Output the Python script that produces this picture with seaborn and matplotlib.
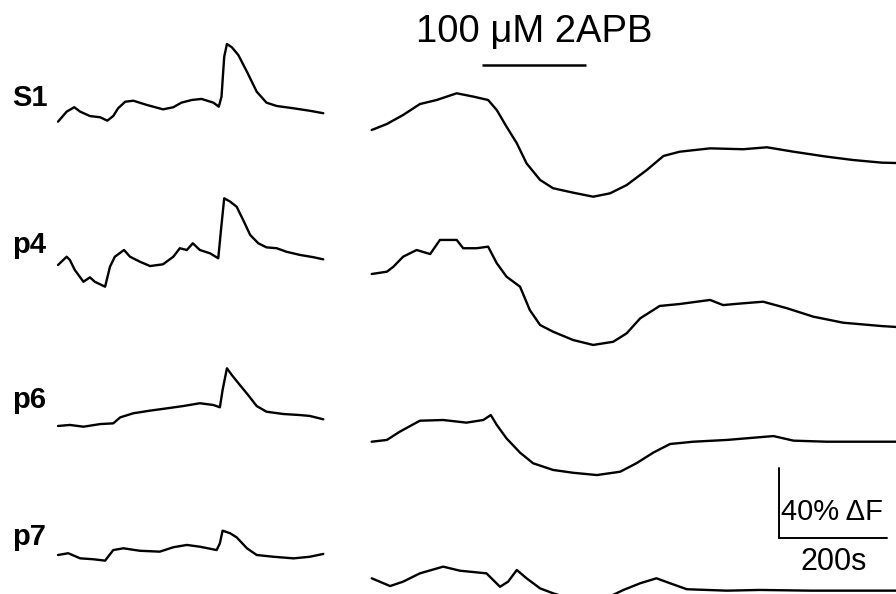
import numpy as np
import pandas as pd
import matplotlib
matplotlib.use("Agg")
import matplotlib.pyplot as plt
import seaborn as sns

# ---------------- data (time in s, fluorescence change in % dF) ----------------
row_labels = ["S1", "p4", "p6", "p7"]

# left column: spontaneous activity traces
left_S1_t = [0, 16, 30, 41, 59, 78, 91, 102, 111, 124, 139, 164, 194, 213, 228, 247, 265, 287, 297, 302,
             307, 312, 321, 333, 349, 367, 385, 404, 435, 465, 490]
left_S1_v = [0, 5.7, 8.2, 5.7, 3.2, 2.5, 0.6, 3.2, 7.6, 11.3, 11.9, 9.5, 7.0, 8.2, 10.8, 12.3, 12.9, 10.8,
             8.5, 14.2, 36.8, 44.0, 42.2, 37.8, 28.3, 17.0, 10.8, 8.9, 7.6, 6.2, 4.8]

left_p4_t = [0, 16, 22, 31, 47, 59, 68, 87, 96, 105, 122, 133, 151, 170, 194, 213, 225, 238, 249, 262, 281,
             296, 301, 307, 318, 330, 342, 355, 370, 385, 404, 422, 447, 472, 490]
left_p4_v = [0, 4.7, 2.8, -2.8, -9.5, -7.0, -9.5, -12.3, -1.0, 4.7, 8.5, 4.7, 1.9, -0.6, 0.4, 4.7, 9.5, 8.5,
             12.3, 8.5, 6.6, 3.8, 19.8, 37.8, 35.9, 33.0, 25.5, 17.0, 12.3, 10.0, 9.5, 7.5, 5.7, 4.4, 3.2]

left_p6_t = [0, 22, 47, 78, 102, 115, 139, 170, 201, 231, 262, 287, 299, 304, 312, 321, 336, 351, 367, 385,
             416, 447, 465, 490]
left_p6_v = [0, 0.6, -0.4, 1.1, 1.5, 4.9, 7.2, 8.7, 10.0, 11.3, 12.9, 11.9, 10.6, 20.4, 32.7, 28.9, 23.2,
             17.6, 11.3, 8.1, 6.8, 6.2, 5.7, 3.8]

left_p7_t = [0, 19, 41, 65, 87, 102, 121, 151, 188, 213, 238, 262, 293, 299, 304, 318, 330, 349, 367, 398,
             435, 465, 490]
left_p7_v = [0, 1.0, -1.9, -2.4, -3.2, 2.8, 3.8, 2.4, 1.9, 4.4, 5.7, 4.7, 2.8, 6.6, 13.8, 12.3, 10.0, 3.8,
             0, -1.0, -1.9, -1.0, 0.6]

# right column: response to 100 uM 2APB
right_S1_t = [0, 28, 58, 89, 120, 157, 188, 215, 231, 249, 268, 286, 311, 335, 372, 409, 440, 471, 508, 539,
              569, 625, 686, 730, 779, 840, 889, 942, 968]
right_S1_v = [-4.7, -1.3, 3.8, 10.0, 12.3, 16.1, 14.2, 12.3, 6.6, -2.8, -12.2, -23.6, -33.0, -37.7, -40.2,
              -42.5, -40.6, -35.9, -27.4, -19.4, -17.0, -15.1, -15.6, -14.5, -17.0, -19.8, -21.7, -23.2, -23.4]

right_p4_t = [0, 28, 40, 58, 83, 108, 126, 157, 169, 194, 215, 231, 249, 274, 292, 311, 335, 372, 409, 446,
              471, 496, 532, 569, 625, 649, 686, 723, 767, 816, 871, 942, 968]
right_p4_v = [-5.1, -3.8, -1.0, 4.7, 8.5, 6.2, 14.2, 14.2, 9.5, 9.5, 10.4, 1.0, -6.6, -12.3, -25.5, -34.0,
              -37.8, -42.5, -45.3, -43.5, -38.7, -30.2, -23.2, -22.1, -19.8, -22.7, -21.7, -20.8, -24.5,
              -29.3, -32.7, -34.6, -35.1]

right_p6_t = [0, 28, 52, 89, 132, 175, 206, 220, 231, 249, 274, 298, 335, 372, 416, 459, 489, 520, 551, 594,
              656, 742, 779, 840, 942, 968]
right_p6_v = [-8.9, -7.9, -3.2, 3.0, 3.4, 1.9, 3.4, 6.2, 0.6, -7.0, -15.1, -21.1, -24.9, -26.5, -27.8, -25.9,
              -21.1, -15.1, -10.2, -8.9, -7.9, -5.7, -8.3, -8.9, -8.9, -8.9]

right_p7_t = [0, 34, 58, 89, 132, 163, 212, 237, 252, 268, 286, 311, 335, 376, 422, 465, 496, 526, 551, 582,
              656, 717, 810, 942, 968]
right_p7_v = [-13.2, -17.6, -15.1, -10.4, -6.6, -8.9, -10.4, -18.0, -15.1, -8.5, -13.2, -18.9, -21.7, -25.5,
              -26.1, -19.8, -16.0, -13.2, -16.0, -19.4, -20.2, -19.8, -20.2, -20.2, -20.2]

drug_label = "100 \u03bcM 2APB"
drug_on, drug_off = 203, 396          # s, relative to start of right-hand traces
scale_time, scale_df = 200, 40        # scale bar sizes (s, % dF)

# ---------------- layout (figure seconds / percent units) ----------------
W, H, DPI = 896, 594, 100
SEC_PER_PX = 1.847
PCT_PER_PX = 0.5666
left_x0 = 58 * SEC_PER_PX
right_x0 = 371.7 * SEC_PER_PX
row_base_px = [121.7, 265, 426, 555]
label_base_px = [106, 252.7, 408, 545]

sns.set_theme(style="white")
plt.rcParams["font.family"] = ["Liberation Sans", "DejaVu Sans"]
plt.rcParams["text.color"] = "black"

fig = plt.figure(figsize=(W / DPI, H / DPI), dpi=DPI)
ax = fig.add_axes([0, 0, 1, 1])
ax.set_xlim(0, W * SEC_PER_PX)
ax.set_ylim(-H * PCT_PER_PX, 0)
ax.axis("off")

left = [(left_S1_t, left_S1_v), (left_p4_t, left_p4_v), (left_p6_t, left_p6_v), (left_p7_t, left_p7_v)]
right = [(right_S1_t, right_S1_v), (right_p4_t, right_p4_v), (right_p6_t, right_p6_v), (right_p7_t, right_p7_v)]

rows = []
for i, name in enumerate(row_labels):
    yb = -row_base_px[i] * PCT_PER_PX
    for side, (t, v), x0 in (("left", left[i], left_x0), ("right", right[i], right_x0)):
        for tt, vv in zip(t, v):
            rows.append({"trace": f"{name}-{side}", "x": x0 + tt, "y": yb + vv})
df = pd.DataFrame(rows)

for tr, sub in df.groupby("trace", sort=False):
    sns.lineplot(data=sub, x="x", y="y", ax=ax, color="black", lw=1.7, sort=False,
                 estimator=None, legend=False)

ax.set_xlabel("")
ax.set_ylabel("")

for i, name in enumerate(row_labels):
    fig.text(12 / W, 1 - label_base_px[i] / H, name, fontsize=21, fontweight="bold",
             ha="left", va="baseline", color="black")

# drug application bar
yd = -65 * PCT_PER_PX
ax.plot([right_x0 + drug_on, right_x0 + drug_off], [yd, yd], color="black", lw=1.8,
        solid_capstyle="butt")
fig.text(534 / W, 1 - 41.7 / H, drug_label, fontsize=27.5, ha="center", va="baseline", color="black")

# scale bars
sbx = 778.7 * SEC_PER_PX
sby = -538.3 * PCT_PER_PX
ax.plot([sbx, sbx, sbx + scale_time], [sby + scale_df, sby, sby], color="black", lw=1.4,
        solid_joinstyle="miter")
fig.text(781 / W, 1 - 520 / H, f"{scale_df}% \u0394F", fontsize=21, ha="left", va="baseline", color="black")
fig.text(834 / W, 1 - 570 / H, f"{scale_time}s", fontsize=22, ha="center", va="baseline", color="black")

fig.savefig("out.png", dpi=DPI)
